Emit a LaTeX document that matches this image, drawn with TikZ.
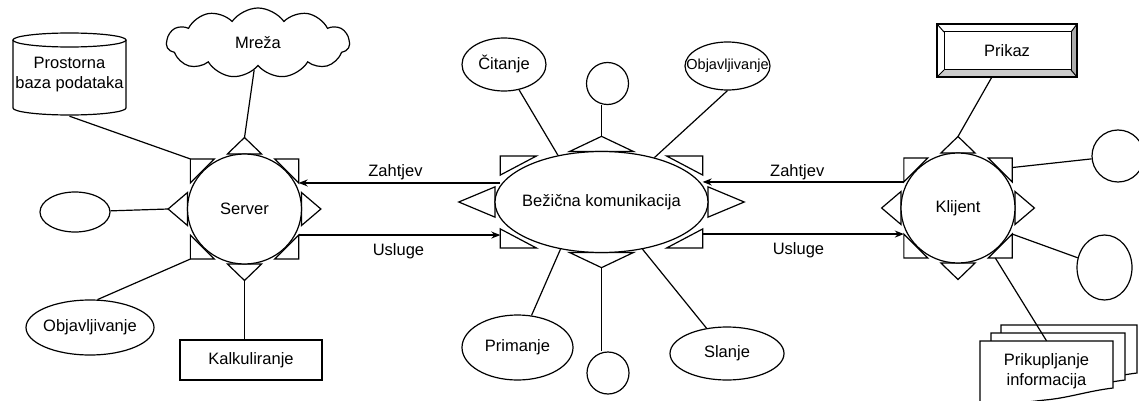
\documentclass[tikz,border=0pt]{standalone}
\usepackage{fontspec}
\setmainfont{Liberation Sans}
\usetikzlibrary{shapes.geometric,shapes.symbols,arrows.meta,calc}

\tikzset{
  ln/.style={line width=1.2pt, draw=black},
  tri/.style={ln, fill=white, line join=miter},
  ent/.style={ln, fill=white, ellipse, inner sep=0pt},
  circ/.style={ln, fill=white, circle, inner sep=0pt},
  box/.style={ln, fill=white, rectangle, inner sep=0pt},
  plain/.style={inner sep=0pt, align=center},
  arr/.style={line width=1.5pt, -{Stealth[length=9pt,width=7pt]}},
  lab/.style={anchor=base, inner sep=0pt}
}

\newcommand{\zb}[1]{\makebox[0pt][c]{#1}}

% #1 name, #2 cx, #3 cy, #4 rx, #5 ry, #6 corner leg x, #7 corner leg y
\newcommand{\ornam}[7]{%
 \begin{scope}[shift={(#2,#3)}]
  \coordinate (#1-n) at (0,{-1.3*#5});
  \coordinate (#1-s) at (0,{1.3*#5});
  \coordinate (#1-w) at ({-1.34*#4},0);
  \coordinate (#1-e) at ({1.34*#4},0);
  \draw[tri] ({-0.3*#4},{-#5}) -- (#1-n) -- ({0.3*#4},{-#5}) -- cycle;
  \draw[tri] ({-0.3*#4},{#5}) -- (#1-s) -- ({0.3*#4},{#5}) -- cycle;
  \draw[tri] ({-#4},{-0.3*#5}) -- (#1-w) -- ({-#4},{0.3*#5}) -- cycle;
  \draw[tri] ({#4},{-0.3*#5}) -- (#1-e) -- ({#4},{0.3*#5}) -- cycle;
  \coordinate (#1-nw) at ({-0.95*#4},{-0.91*#5});
  \coordinate (#1-nw-h) at ({-0.95*#4+#6},{-0.91*#5});
  \coordinate (#1-nw-v) at ({-0.95*#4},{-0.91*#5+#7});
  \coordinate (#1-ne) at ({0.95*#4},{-0.91*#5});
  \coordinate (#1-ne-h) at ({0.95*#4-#6},{-0.91*#5});
  \coordinate (#1-ne-v) at ({0.95*#4},{-0.91*#5+#7});
  \coordinate (#1-sw) at ({-0.95*#4},{0.91*#5});
  \coordinate (#1-sw-h) at ({-0.95*#4+#6},{0.91*#5});
  \coordinate (#1-sw-v) at ({-0.95*#4},{0.91*#5-#7});
  \coordinate (#1-se) at ({0.95*#4},{0.91*#5});
  \coordinate (#1-se-h) at ({0.95*#4-#6},{0.91*#5});
  \coordinate (#1-se-v) at ({0.95*#4},{0.91*#5-#7});
  \draw[tri] (#1-nw-h) -- (#1-nw) -- (#1-nw-v) -- cycle;
  \draw[tri] (#1-ne-h) -- (#1-ne) -- (#1-ne-v) -- cycle;
  \draw[tri] (#1-sw-h) -- (#1-sw) -- (#1-sw-v) -- cycle;
  \draw[tri] (#1-se-h) -- (#1-se) -- (#1-se-v) -- cycle;
 \end{scope}}

% document shape: #1 left, #2 top, #3 right, #4 right-bottom
\newcommand{\docpath}[4]{%
  \draw[ln, fill=white] (#1,#2) -- (#3,#2) -- (#3,#4)
    .. controls ({#3-25},{#4+3}) and ({#3-45},{#4+10}) .. ({#3-68},{#4+12})
    .. controls ({#3-95},{#4+15}) and ({#1+15},{#4+18}) .. (#1,{#4+18}) -- cycle;}

\begin{document}
\begin{tikzpicture}[x=1pt, y=-1pt, every node/.style={font=\fontsize{16.5}{20}\selectfont}]
\useasboundingbox (0,0) rectangle (1139,401);
\clip (0,0) rectangle (1139,401);

% ---------- ornaments (triangles) ----------
\ornam{S}{244.5}{209}{57}{55}{24}{24}
\ornam{B}{601.5}{202}{106.5}{50.5}{36}{19}
\ornam{K}{958}{208}{57}{55}{24}{24}

% ---------- central shapes ----------
\node[ent, minimum width=114, minimum height=110] (srv) at (244.5,209) {Server};
\node[ent, minimum width=213, minimum height=101] (bk) at (601.5,202) {\zb{Bežična komunikacija}};
\node[ent, minimum width=114, minimum height=110] (kl) at (958,208) {Klijent};

% ---------- server periphery ----------
\draw[ln, fill=white] (13,40) -- (13,108) arc[start angle=180, end angle=0, x radius=56.5, y radius=7] -- (126,40);
\draw[ln, fill=white] (69.5,40) ellipse [x radius=56.5, y radius=7];
\node[plain, minimum width=113, minimum height=82] (db) at (69.5,75) {Prostorna\\\zb{baza podataka}};

\node[cloud, cloud puffs=11, cloud puff arc=110, aspect=2.6, ln, fill=white,
      minimum width=183, minimum height=70, inner sep=0pt] (mreza) at (258,43) {Mreža};
\node[ent, minimum width=70, minimum height=40] (lel) at (75,212) {};
\node[ent, minimum width=128, minimum height=55] (objL) at (90,327.5) {\zb{Objavljivanje}};
\node[box, minimum width=142, minimum height=40] (kalk) at (251,360) {Kalkuliranje};

% ---------- central periphery ----------
\node[ent, minimum width=84, minimum height=53] (cit) at (504,64.5) {\zb{Čitanje}};
\node[circ, minimum size=42] (topc) at (607.5,83.5) {};
\node[ent, minimum width=85, minimum height=48, font=\fontsize{14.5}{17}\selectfont] (objR) at (727.5,66) {\zb{Objavljivanje}};
\node[ent, minimum width=111, minimum height=65] (prim) at (517.5,347.5) {\zb{Primanje}};
\node[circ, minimum size=42] (botc) at (608,373) {};
\node[ent, minimum width=114, minimum height=53] (slanje) at (727,353.5) {\zb{Slanje}};

% ---------- client periphery ----------
\draw[ln, fill=white] (937,24) rectangle (1077,77);
\fill[gray!65] (1071,32) -- (1077,24) -- (1077,77) -- (1071,70) -- cycle;
\fill[gray!40] (944,70) -- (1071,70) -- (1077,77) -- (937,77) -- cycle;
\draw[ln] (937,24) rectangle (1077,77);
\draw[line width=1pt] (944,32) rectangle (1071,70);
\draw[line width=1pt] (937,24) -- (944,32) (1077,24) -- (1071,32) (937,77) -- (944,70) (1077,77) -- (1071,70);
\node[plain, minimum width=140, minimum height=53] (prikaz) at (1007,50.5) {Prikaz};

\node[circ, minimum size=52] (rc) at (1118,156) {};
\node[ent, minimum width=55, minimum height=65] (rel) at (1104.5,267.5) {};

\docpath{1001}{325}{1137}{373}
\docpath{991}{333}{1125}{380}
\docpath{980}{341}{1113}{388}
\node[plain, minimum width=133, minimum height=60] (docs) at (1046.5,371) {Prikupljanje\\informacija};

% ---------- connectors ----------
\draw[ln] (db.south) -- (S-nw);
\draw[ln] (mreza) -- (S-n);
\draw[ln] (lel) -- (S-w);
\draw[ln] (objL.75) -- (S-sw);
\draw[ln] (S-s) -- (S-s |- kalk.north);

\draw[ln] (cit) -- (bk.133);
\draw[ln] (B-n) -- (B-n |- topc.south);
\draw[ln] (objR.south) -- (bk.40);
\draw[ln] (prim) -- (bk.229);
\draw[ln] (B-s) -- (B-s |- botc.north);
\draw[ln] (slanje) -- (bk.311);

\draw[ln] (prikaz) -- (K-n);
\draw[ln] (rc) -- ($(K-ne)!0.4!(K-ne-v)$);
\draw[ln] (rel) -- (K-se-v);
\draw[ln] ($(K-se)!0.7!(K-se-h)$) -- (docs.north);

% ---------- arrows ----------
\draw[arr] (S-ne-v -| B-nw) -- node[lab, pos=0.52, yshift=6pt] (lz) {Zahtjev} (S-ne-v);
\draw[arr] (S-se-v) -- node[lab, pos=0.495, yshift=-20pt] (lu) {Usluge} (S-se-v -| B-sw);
\draw[arr] (K-nw-v) -- node[lab, pos=0.53, yshift=5pt] (rz) {Zahtjev} (K-nw-v -| B-ne);
\draw[arr] (K-sw-v -| B-se) -- node[lab, pos=0.476, yshift=-20pt] (ru) {Usluge} (K-sw-v);
\end{tikzpicture}
\end{document}
